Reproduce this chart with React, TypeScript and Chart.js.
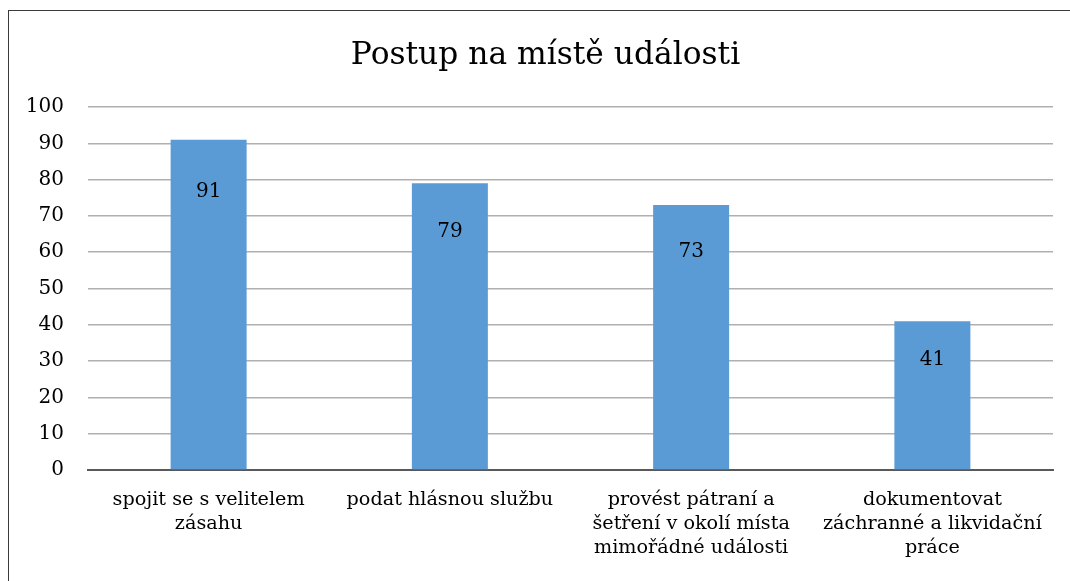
import React, { useEffect, useRef } from "react";
import { Chart, registerables } from "chart.js";

Chart.register(...registerables);

const TITLE = "Postup na místě události";
const categories: string[][] = [
  ["spojit se s velitelem", "zásahu"],
  ["podat hlásnou službu"],
  ["provést pátraní a", "šetření v okolí místa", "mimořádné události"],
  ["dokumentovat", "záchranné a likvidační", "práce"],
];
const values: number[] = [91, 79, 73, 41];
const yTicks: number[] = [0, 10, 20, 30, 40, 50, 60, 70, 80, 90, 100];

const FONT = "'DejaVu Serif', serif";

const valueLabels = {
  id: "valueLabels",
  afterDatasetsDraw(chart: any) {
    const ctx = chart.ctx;
    const meta = chart.getDatasetMeta(0);
    const zeroY = chart.scales.y.getPixelForValue(0);
    ctx.save();
    ctx.font = `20px ${FONT}`;
    ctx.fillStyle = "#000";
    ctx.textAlign = "center";
    ctx.textBaseline = "middle";
    meta.data.forEach((bar: any, i: number) => {
      const h = zeroY - bar.y;
      const off = 28 + 0.072 * h;
      ctx.fillText(String(values[i]), bar.x, bar.y + off);
    });
    ctx.restore();
  },
};

const centeredTitle = {
  id: "centeredTitle",
  afterDraw(chart: any) {
    const ctx = chart.ctx;
    ctx.save();
    ctx.font = `31.3px ${FONT}`;
    ctx.fillStyle = "#000";
    ctx.textAlign = "center";
    ctx.textBaseline = "middle";
    ctx.fillText(TITLE, chart.width / 2, 46);
    ctx.restore();
  },
};

export default function App() {
  const ref = useRef<HTMLCanvasElement | null>(null);
  useEffect(() => {
    if (!ref.current) return;
    const chart = new Chart(ref.current, {
      type: "bar",
      data: {
        labels: categories,
        datasets: [
          {
            data: values,
            backgroundColor: "#5B9BD5",
            borderWidth: 0,
            barPercentage: 0.63,
            categoryPercentage: 0.5,
          },
        ],
      },
      plugins: [valueLabels, centeredTitle],
      options: {
        animation: false,
        responsive: false,
        maintainAspectRatio: false,
        layout: { padding: { left: 0, right: 30, top: 97, bottom: 0 } },
        plugins: {
          legend: { display: false },
          tooltip: { enabled: false },
          title: { display: false },
        },
        scales: {
          x: {
            grid: { display: false },
            border: { display: true, color: "#595959", width: 2 },
            ticks: {
              color: "#000",
              font: { family: FONT, size: 19.2, lineHeight: 1.25 },
              padding: 10,
              maxRotation: 0,
              autoSkip: false,
            },
            afterFit(s: any) {
              s.height = 111;
            },
          },
          y: {
            min: 0,
            max: 100,
            afterBuildTicks(s: any) {
              s.ticks = yTicks.map((v) => ({ value: v }));
            },
            grid: {
              color: "#B0B0B0",
              lineWidth: 1.5,
              drawTicks: false,
            },
            border: { display: false },
            ticks: {
              color: "#000",
              font: { family: FONT, size: 20 },
              padding: 24,
            },
            afterFit(s: any) {
              s.width = 80;
            },
          },
        },
      },
    });
    return () => chart.destroy();
  }, []);

  return (
    <>
      <div
        style={{
          position: "fixed",
          left: 8,
          top: 10,
          width: 1075,
          height: 800,
          border: "1.5px solid #3a3a3a",
          boxSizing: "border-box",
          background: "#fff",
        }}
      />
      <canvas
        ref={ref}
        width={1075}
        height={571}
        style={{ position: "fixed", left: 8, top: 10, width: 1075, height: 571 }}
      />
    </>
  );
}
